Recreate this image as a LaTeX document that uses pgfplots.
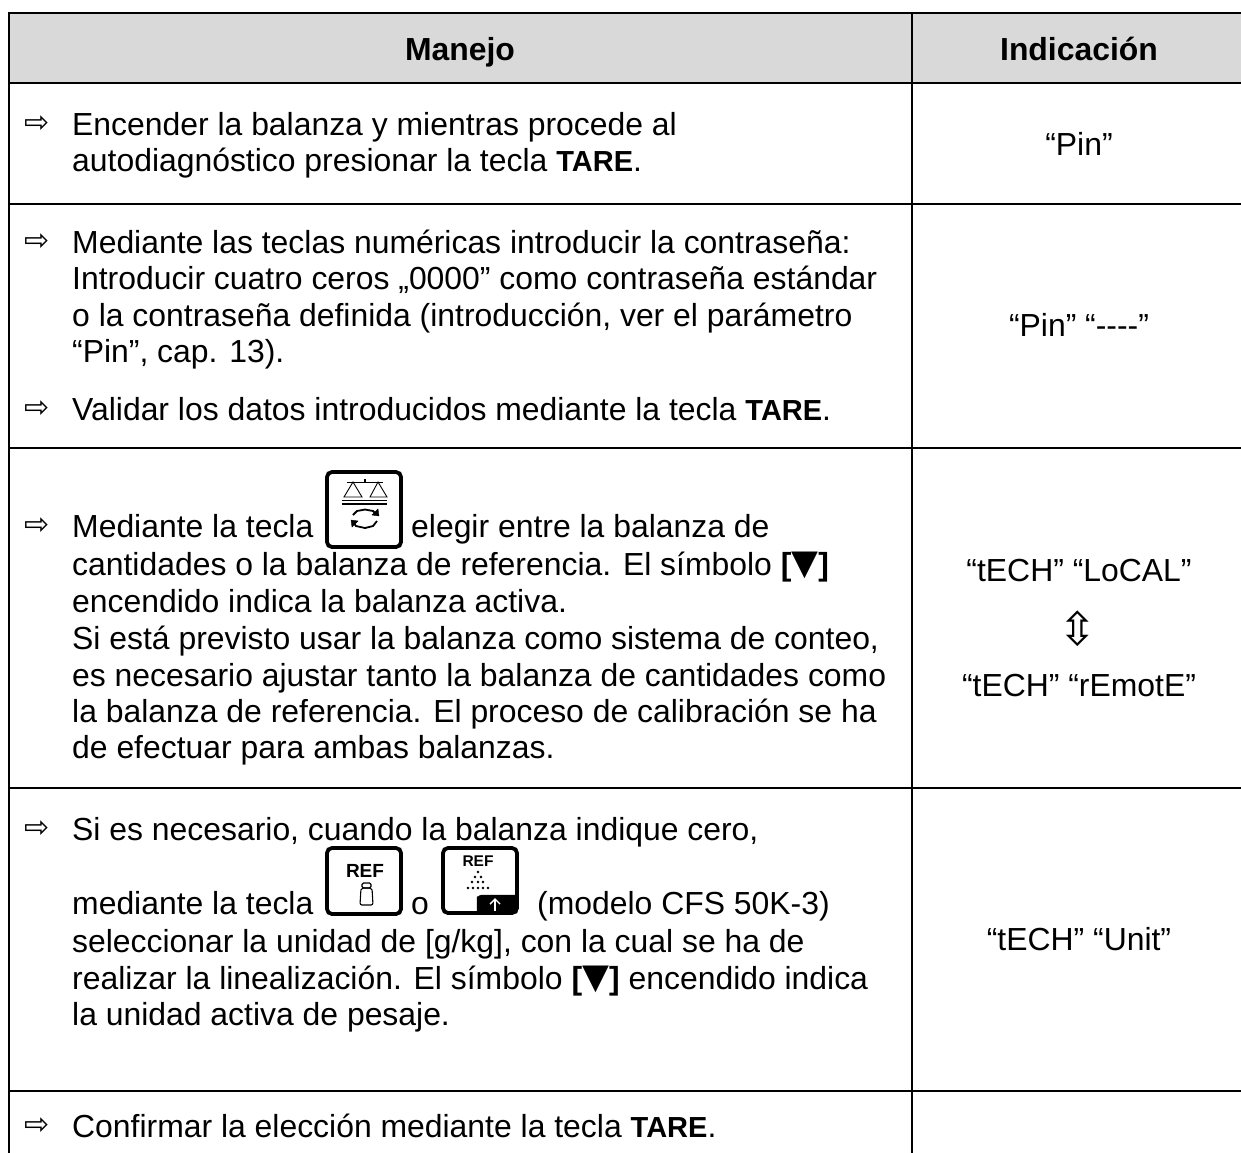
\documentclass[border=0pt]{standalone}
\usepackage{fontspec}
\setmainfont{Liberation Sans}
\newfontfamily\djf{DejaVu Sans}
\usepackage{pgfplots}
\pgfplotsset{compat=1.18}
\newcommand{\BF}{\fontsize{31.9bp}{36bp}\selectfont}
\newcommand{\TARE}{{\fontsize{29bp}{36bp}\selectfont\bfseries TARE}}
\newcommand{\TRI}{{\bfseries [\raisebox{0.02em}{\fontsize{35bp}{36bp}\selectfont\djf ▼}]}}
\newcommand{\TT}[3]{\node[anchor=base west,inner sep=0pt] at (axis cs:#1,#2) {\BF #3};}
\newcommand{\CC}[3]{\node[anchor=base,inner sep=0pt] at (axis cs:#1,#2) {\BF #3};}
\newcommand{\AR}[1]{\node[anchor=base west,inner sep=0pt] at (axis cs:24.5,#1-3) {\fontsize{30bp}{30bp}\selectfont\djf ⇨};}
\begin{document}
\begin{tikzpicture}
\useasboundingbox (0,0) rectangle (1241bp,1153bp);
\begin{axis}[at={(0,0)},anchor=south west,width=1241bp,height=1153bp,scale only axis,
  xmin=0,xmax=1241,ymin=0,ymax=1153,y dir=reverse,hide axis,clip=true]
% header band
\addplot[fill=black!15,draw=none] coordinates {(9,13) (1241,13) (1241,82) (9,82)} --cycle;
% rules
\addplot[black,line width=2bp] coordinates {(9,13) (1241,13)};
\addplot[black,line width=2bp] coordinates {(9,82.5) (1241,82.5)};
\addplot[black,line width=2bp] coordinates {(9,204) (1241,204)};
\addplot[black,line width=2bp] coordinates {(9,448) (1241,448)};
\addplot[black,line width=2bp] coordinates {(9,788) (1241,788)};
\addplot[black,line width=2bp] coordinates {(9,1091) (1241,1091)};
\addplot[black,line width=2bp] coordinates {(9,12) (9,1153)};
\addplot[black,line width=2bp] coordinates {(912,13) (912,1153)};
% icon 1: scale
\addplot[black,line width=3.8bp,rounded corners=5bp] coordinates {(327,472) (401,472) (401,547) (327,547)} --cycle;
\addplot[black,line width=0.9bp] coordinates {(353,482) (344,497) (362,497)} --cycle;
\addplot[black,line width=0.9bp] coordinates {(378,482) (370,497) (387,497)} --cycle;
\addplot[black,line width=0.9bp] coordinates {(347,482) (383,482)};
\addplot[black,line width=1.6bp] coordinates {(365,479) (365,483)};
\addplot[black,line width=0.8bp] coordinates {(342,500.5) (387,500.5)};
\addplot[black,line width=1.8bp] coordinates {(342,504) (387,504)};
\addplot[black,line width=1.8bp] coordinates {(353,515) (357,511) (365,509.5) (373,511) (376,514)};
\addplot[black,line width=1.8bp] coordinates {(353,522) (356,526) (365,528) (373,526) (377,521)};
\addplot[black,fill=black] coordinates {(372,515) (379,516) (378,509)} --cycle;
\addplot[black,fill=black] coordinates {(358,521) (351,520) (352,527)} --cycle;
% icon 2: REF weight
\addplot[black,line width=3.8bp,rounded corners=5bp] coordinates {(327,848) (401,848) (401,914) (327,914)} --cycle;
\node[anchor=center,inner sep=0pt] at (axis cs:365,871) {\fontsize{19bp}{20bp}\selectfont\bfseries REF};
\addplot[black,line width=1.1bp,rounded corners=2bp] coordinates {(361,888) (372,888) (373,905) (360,905)} --cycle;
\addplot[black,line width=1.1bp,rounded corners=1.5bp] coordinates {(362,883) (371,883) (371,888) (362,888)} --cycle;
% icon 3: REF powder
\addplot[black,line width=3.8bp,rounded corners=5bp] coordinates {(443,848) (517,848) (517,913) (443,913)} --cycle;
\addplot[black,fill=black] coordinates {(477,913) (477,897) (481,895) (517,895) (517,913)} --cycle;
\addplot[white,line width=1.4bp] coordinates {(495,911) (495,900)};
\addplot[white,line width=1.4bp] coordinates {(490,904) (495,899) (500,904)};
\node[anchor=center,inner sep=0pt] at (axis cs:478,861) {\fontsize{15.5bp}{16bp}\selectfont\bfseries REF};
\addplot[only marks,mark=*,mark size=1.05bp,black] coordinates {
 (478,872) (475,877) (481,877) (472,882) (478,882) (483,882)
 (468,888) (473,888) (478,888) (483,888) (488,888)};
% header text
\CC{460}{60}{\bfseries Manejo}
\CC{1079}{60}{\bfseries Indicación}
% left column
\AR{135}
\TT{72}{135}{Encender la balanza y mientras procede al}
\TT{72}{171}{autodiagnóstico presionar la tecla \TARE.}
\AR{253}
\TT{72}{253}{Mediante las teclas numéricas introducir la contraseña:}
\TT{72}{289}{Introducir cuatro ceros „0000” como contraseña estándar}
\TT{72}{326}{o la contraseña definida (introducción, ver el parámetro}
\TT{72}{362}{“Pin”, cap. 13).}
\AR{420}
\TT{72}{420}{Validar los datos introducidos mediante la tecla \TARE.}
\AR{537}
\TT{72}{537}{Mediante la tecla}
\TT{411}{537}{elegir entre la balanza de}
\TT{72}{575}{cantidades o la balanza de referencia. El símbolo \TRI}
\TT{72}{612}{encendido indica la balanza activa.}
\TT{72}{649}{Si está previsto usar la balanza como sistema de conteo,}
\TT{72}{686}{es necesario ajustar tanto la balanza de cantidades como}
\TT{72}{722}{la balanza de referencia. El proceso de calibración se ha}
\TT{72}{758}{de efectuar para ambas balanzas.}
\AR{840}
\TT{72}{840}{Si es necesario, cuando la balanza indique cero,}
\TT{72}{914}{mediante la tecla}
\TT{411}{914}{o}
\TT{537}{914}{(modelo CFS 50K-3)}
\TT{72}{952}{seleccionar la unidad de [g/kg], con la cual se ha de}
\TT{72}{989}{realizar la linealización. El símbolo \TRI{} encendido indica}
\TT{72}{1025}{la unidad activa de pesaje.}
\AR{1137}
\TT{72}{1137}{Confirmar la elección mediante la tecla \TARE.}
% right column
\CC{1079}{155}{“Pin”}
\CC{1079}{336}{“Pin” “-{}-{}-{}-”}
\CC{1079}{581}{“tECH” “LoCAL”}
\node[anchor=center,inner sep=0pt] at (axis cs:1078,629) {\fontsize{46bp}{46bp}\selectfont\djf ⇳};
\CC{1079}{696}{“tECH” “rEmotE”}
\CC{1079}{950}{“tECH” “Unit”}
\end{axis}
\end{tikzpicture}
\end{document}
